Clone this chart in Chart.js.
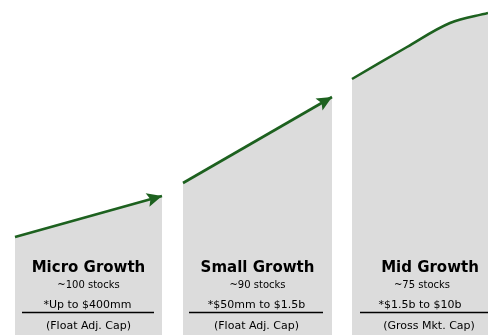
<!DOCTYPE html>
<html>
<head>
<meta charset="utf-8">
<script src="https://cdn.jsdelivr.net/npm/chart.js@4/dist/chart.umd.min.js"></script>
<style>
html,body{margin:0;padding:0;background:#fff;}
#wrap{width:488px;height:335px;}
</style>
</head>
<body>
<div id="wrap"><canvas id="c" width="488" height="335"></canvas></div>
<script>
// ---- data ----
const categories = ["Micro Growth", "Small Growth", "Mid Growth"];
const stockCounts = ["~100 stocks", "~90 stocks", "~75 stocks"];
const capRanges = ["*Up to $400mm", "*$50mm to $1.5b", "*$1.5b to $10b"];
const capTypes = ["(Float Adj. Cap)", "(Float Adj. Cap)", "(Gross Mkt. Cap)"];
const microX = [15, 162];
const microY = [98, 139];
const smallX = [183, 332];
const smallY = [152, 238];
const midX = [352, 407, 450, 488];
const midY = [256, 288, 312, 322];

const GREEN = '#1d611f';
const GRAY = '#dcdcdc';

function pts(xs, ys){ return xs.map((x,i)=>({x:x, y:ys[i]})); }
function ds(xs, ys, tension, arrow){
  return {
    data: pts(xs, ys),
    borderColor: GREEN,
    borderWidth: 2.6,
    backgroundColor: GRAY,
    fill: 'origin',
    pointRadius: 0,
    tension: tension,
    arrow: arrow
  };
}

const arrowPlugin = {
  id: 'arrows',
  afterDatasetsDraw(chart){
    const ctx = chart.ctx;
    chart.data.datasets.forEach((d, i) => {
      if (!d.arrow) return;
      const meta = chart.getDatasetMeta(i);
      const n = meta.data.length;
      const p1 = meta.data[n-2], p2 = meta.data[n-1];
      const ang = Math.atan2(p2.y - p1.y, p2.x - p1.x);
      const L = 15, W = 7;
      ctx.save();
      ctx.fillStyle = GREEN;
      ctx.translate(p2.x, p2.y);
      ctx.rotate(ang);
      ctx.beginPath();
      ctx.moveTo(0, 0);
      ctx.lineTo(-L, -W);
      ctx.lineTo(-L*0.8, 0);
      ctx.lineTo(-L, W);
      ctx.closePath();
      ctx.fill();
      ctx.restore();
    });
  }
};

const labelPlugin = {
  id: 'labels',
  afterDraw(chart){
    const ctx = chart.ctx;
    const xs = chart.scales.x;
    const panels = [microX, smallX, midX];
    const offs = [
      {t:0, s:0, r:-1, c:0, l0:7, l1:-8},
      {t:0, s:0, r:-1, c:-1, l0:6, l1:-9},
      {t:10, s:2, r:0, c:9, l0:8, l1:0}
    ];
    ctx.save();
    ctx.fillStyle = '#000';
    ctx.textAlign = 'center';
    ctx.textBaseline = 'middle';
    panels.forEach((px, i) => {
      const left = xs.getPixelForValue(px[0]);
      const right = xs.getPixelForValue(px[px.length-1]);
      const cx = (left + right) / 2;
      const o = offs[i];
      ctx.font = 'bold 15px "DejaVu Sans", Verdana, sans-serif';
      ctx.fillText(categories[i], cx + o.t, 268);
      ctx.font = '10px "DejaVu Sans", Verdana, sans-serif';
      ctx.fillText(stockCounts[i], cx + o.s, 285);
      ctx.font = '11px "DejaVu Sans", Verdana, sans-serif';
      ctx.fillText(capRanges[i], cx + o.r, 305);
      ctx.fillText(capTypes[i], cx + o.c, 326);
      ctx.strokeStyle = '#000';
      ctx.lineWidth = 1.5;
      ctx.beginPath();
      ctx.moveTo(left + o.l0, 312.5);
      ctx.lineTo(right + o.l1, 312.5);
      ctx.stroke();
    });
    ctx.restore();
  }
};

new Chart(document.getElementById('c'), {
  type: 'line',
  data: {
    datasets: [
      ds(microX, microY, 0, true),
      ds(smallX, smallY, 0, true),
      ds(midX, midY, 0.35, false)
    ]
  },
  options: {
    responsive: false,
    animation: false,
    layout: { padding: 0 },
    plugins: { legend: {display:false}, tooltip: {enabled:false}, title:{display:false} },
    scales: {
      x: { type: 'linear', min: 0, max: 488, display: false },
      y: { type: 'linear', min: 0, max: 335, display: false }
    },
    elements: { line: { borderCapStyle: 'butt' } }
  },
  plugins: [arrowPlugin, labelPlugin]
});
</script>
</body>
</html>
